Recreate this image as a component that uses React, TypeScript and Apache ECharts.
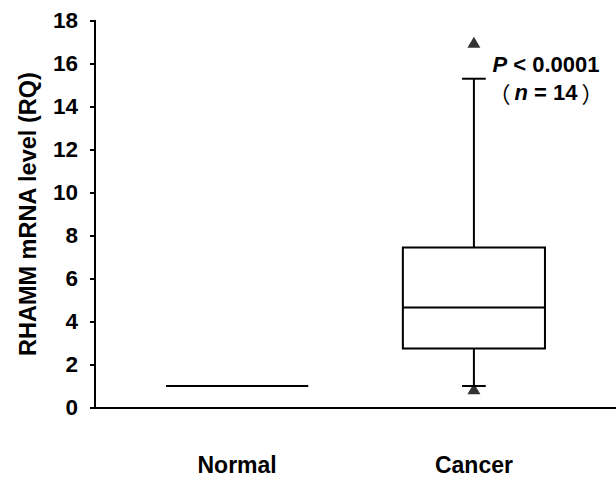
import React, { useEffect, useRef } from "react";
import * as echarts from "echarts";

const CATEGORIES = ["Normal", "Cancer"];
const CATEGORY_POS = [1, 2];
// [min, q1, median, q3, max]
const BOX_STATS = [
  [1.0, 1.0, 1.0, 1.0, 1.0],
  [1.0, 2.75, 4.65, 7.45, 15.3],
];
const OUTLIERS = [
  [2, 17.0],
  [2, 0.87],
];
const Y_MIN = 0;
const Y_MAX = 18;
const Y_INTERVAL = 2;
const Y_NAME = "RHAMM mRNA level (RQ)";
const P_TEXT = "{i|P} < 0.0001";
const N_TEXT = "{pl|（}{i|n} = 14{pr|）}";

const FONT = '"Liberation Sans", Arial, "Noto Sans CJK SC", sans-serif';
const CJK = '"Noto Sans CJK SC", sans-serif';
const BOX_W = 0.6;
const CAP_W = 0.1;

export default function App() {
  const ref = useRef<HTMLDivElement>(null);
  useEffect(() => {
    if (!ref.current) return;
    const chart = echarts.init(ref.current, undefined, { renderer: "svg" });
    const boxData = CATEGORY_POS.map((x, i) => [x, ...BOX_STATS[i]]);
    const italic = { fontStyle: "italic", fontWeight: "bold", fontSize: 22, fontFamily: FONT };
    const option: any = {
      animation: false,
      backgroundColor: "#ffffff",
      grid: {
        left: 95,
        right: 0,
        top: 20.7,
        bottom: 69.5,
        containLabel: false,
        outerBoundsMode: "none",
      },
      xAxis: {
        type: "value",
        min: 0.4,
        max: 2.6,
        axisLine: { show: true, onZero: false, lineStyle: { color: "#000", width: 2 } },
        axisTick: { show: false },
        splitLine: { show: false },
        axisLabel: {
          customValues: CATEGORY_POS,
          formatter: (v: number) => CATEGORIES[CATEGORY_POS.indexOf(Math.round(v))] ?? "",
          margin: 46,
          color: "#000",
          fontSize: 23,
          fontWeight: "bold",
          fontFamily: FONT,
        },
      },
      yAxis: {
        type: "value",
        min: Y_MIN,
        max: Y_MAX,
        interval: Y_INTERVAL,
        name: Y_NAME,
        nameLocation: "middle",
        nameGap: 55,
        nameTextStyle: { color: "#000", fontSize: 23.5, fontWeight: "bold", fontFamily: FONT },
        axisLine: { show: true, lineStyle: { color: "#000", width: 2 } },
        axisTick: { show: true, length: 5, lineStyle: { color: "#000", width: 2 } },
        splitLine: { show: false },
        axisLabel: {
          margin: 17,
          color: "#000",
          fontSize: 22.5,
          fontWeight: "bold",
          fontFamily: FONT,
        },
      },
      series: [
        {
          type: "custom",
          data: boxData,
          encode: { x: 0, y: [1, 2, 3, 4, 5] },
          renderItem: (params: any, api: any) => {
            const x = api.value(0);
            const lo = api.coord([x, api.value(1)]);
            const q1 = api.coord([x, api.value(2)]);
            const med = api.coord([x, api.value(3)]);
            const q3 = api.coord([x, api.value(4)]);
            const hi = api.coord([x, api.value(5)]);
            const cx = lo[0];
            const hw = api.size([BOX_W, 0])[0] / 2;
            const cw = api.size([CAP_W, 0])[0] / 2;
            const ls = { stroke: "#000", lineWidth: 2, fill: "none" };
            return {
              type: "group",
              children: [
                { type: "line", shape: { x1: cx, y1: q3[1], x2: cx, y2: hi[1] }, style: ls },
                { type: "line", shape: { x1: cx, y1: q1[1], x2: cx, y2: lo[1] }, style: ls },
                { type: "line", shape: { x1: cx - cw, y1: hi[1], x2: cx + cw, y2: hi[1] }, style: ls },
                { type: "line", shape: { x1: cx - cw, y1: lo[1], x2: cx + cw, y2: lo[1] }, style: ls },
                {
                  type: "rect",
                  shape: { x: cx - hw, y: q3[1], width: hw * 2, height: q1[1] - q3[1] },
                  style: { stroke: "#000", lineWidth: 2, fill: "#fff" },
                },
                { type: "line", shape: { x1: cx - hw, y1: med[1], x2: cx + hw, y2: med[1] }, style: ls },
              ],
            };
          },
          z: 2,
        },
        {
          type: "scatter",
          data: OUTLIERS,
          symbol: "triangle",
          symbolSize: [13, 11],
          itemStyle: { color: "#000" },
          z: 3,
        },
      ],
      graphic: [
        {
          type: "text",
          x: 546,
          y: 64,
          style: {
            text: P_TEXT,
            align: "center",
            verticalAlign: "middle",
            fill: "#000",
            font: `bold 22px ${FONT}`,
            rich: { i: italic },
          },
        },
        {
          type: "text",
          x: 546,
          y: 92,
          style: {
            text: N_TEXT,
            align: "center",
            verticalAlign: "middle",
            fill: "#000",
            font: `bold 22px ${FONT}`,
            rich: {
              i: italic,
              pl: { fontFamily: CJK, fontWeight: "normal", fontSize: 22, padding: [0, 4, 0, 0] },
              pr: { fontFamily: CJK, fontWeight: "normal", fontSize: 22, padding: [0, 0, 0, 4] },
            },
          },
        },
      ],
    };
    chart.setOption(option);
    return () => chart.dispose();
  }, []);
  return (
    <div
      ref={ref}
      style={{ position: "fixed", left: 0, top: 0, width: 616, height: 477 }}
    />
  );
}
